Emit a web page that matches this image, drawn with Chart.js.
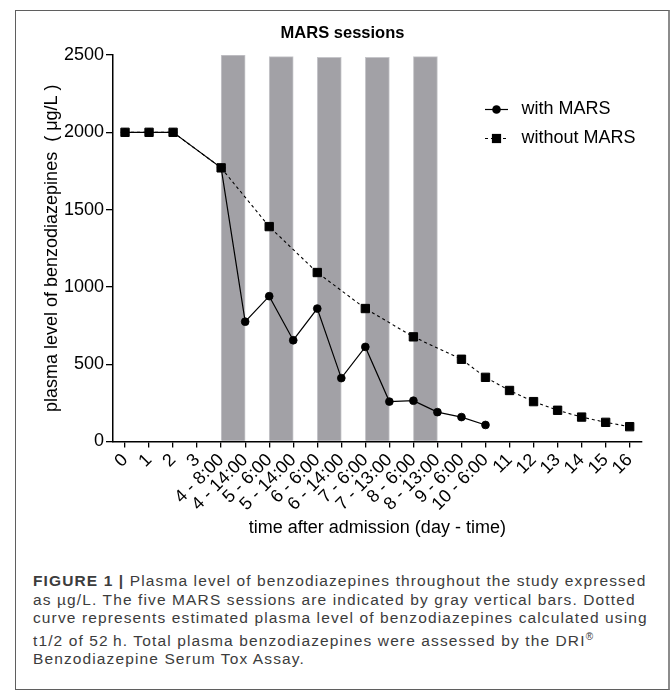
<!DOCTYPE html>
<html>
<head>
<meta charset="utf-8">
<script src="https://cdn.jsdelivr.net/npm/chart.js@4.4.0/dist/chart.umd.min.js"></script>
<style>
  body { margin: 0; background: #fff; font-family: "Liberation Sans", Arial, sans-serif; }
  #frame { position: absolute; left: 15px; top: 10px; width: 652px; height: 678px; border: 1px solid #5f5f5f; border-right: 2px solid #8c8c8c; }
  #chartBox { position: absolute; left: 0; top: 0; width: 670px; height: 560px; }
  #caption { position: absolute; left: 33px; top: 572px; font-size: 15.5px; line-height: 18.5px; letter-spacing: 1.12px; color: #3c3c3c; white-space: nowrap; }
</style>
</head>
<body>
<div id="frame"></div>
<div id="chartBox"><canvas id="chart"></canvas></div>
<div id="caption">
  <b>FIGURE 1 |</b> Plasma level of benzodiazepines throughout the study expressed<br>
  as µg/L. The five MARS sessions are indicated by gray vertical bars. Dotted<br>
  curve represents estimated plasma level of benzodiazepines calculated using<br>
  t1/2 of 52&#8201;h. Total plasma benzodiazepines were assessed by the DRI<sup style="font-size:10px">®</sup><br>
  Benzodiazepine Serum Tox Assay.
</div>
<script>
// tick labels for the time axis (day - time)
const xLabels = ['0', '1', '2', '3', '4 - 8:00', '4 - 14:00', '5 - 6:00', '5 - 14:00',
  '6 - 6:00', '6 - 14:00', '7 - 6:00', '7 - 13:00', '8 - 6:00', '8 - 13:00',
  '9 - 6:00', '10 - 6:00', '11', '12', '13', '14', '15', '16'];

// measured plasma level (µg/L)
const withMars = [2000, 2000, 2000, null, 1770, 775, 940, 655, 860, 410, 612, 258,
  264, 190, 158, 107, null, null, null, null, null, null];

// estimated level with t1/2 = 52 h
const withoutMars = [2000, 2000, 2000, null, 1770, null, 1390, null, 1093, null, 860, null,
  677, null, 532, 415, 330, 258, 202, 158, 124, 96];

// MARS sessions: each bar spans two time points
const sessionCenters = [4.5, 6.5, 8.5, 10.5, 12.5];
const sessionTops = [2500, 2490, 2485, 2485, 2490];

const toPoints = arr => arr.map((v, i) => ({ x: i, y: v }));

Chart.defaults.font.family = '"Liberation Sans", Arial, sans-serif';
Chart.defaults.color = '#000';

// title over the bars and the legend inside the plot
const overlay = {
  id: 'overlay',
  afterDraw(chart) {
    const ctx = chart.ctx;
    const x = chart.scales.x;
    ctx.save();
    ctx.fillStyle = '#000';
    ctx.strokeStyle = '#000';
    ctx.textBaseline = 'middle';
    ctx.font = 'bold 16.5px "Liberation Sans", Arial, sans-serif';
    ctx.textAlign = 'center';
    ctx.fillText('MARS sessions', x.getPixelForValue(9.05), 33);

    ctx.font = '18px "Liberation Sans", Arial, sans-serif';
    ctx.textAlign = 'left';
    const lx = 485, lw = 23, rows = [109.5, 138.5];
    // with MARS
    ctx.lineWidth = 1.2;
    ctx.beginPath();
    ctx.moveTo(lx, rows[0]); ctx.lineTo(lx + lw, rows[0]);
    ctx.stroke();
    ctx.beginPath();
    ctx.arc(lx + lw / 2, rows[0], 4.3, 0, Math.PI * 2);
    ctx.fill();
    ctx.fillText('with MARS', 521.5, rows[0]);
    // without MARS
    ctx.setLineDash([3, 3]);
    ctx.beginPath();
    ctx.moveTo(lx, rows[1]); ctx.lineTo(lx + lw, rows[1]);
    ctx.stroke();
    ctx.setLineDash([]);
    ctx.fillRect(lx + lw / 2 - 4.6, rows[1] - 4.6, 9.2, 9.2);
    ctx.fillText('without MARS', 521.5, rows[1]);
    ctx.restore();
  }
};

new Chart(document.getElementById('chart'), {
  type: 'line',
  data: {
    datasets: [
      {
        type: 'bar',
        label: 'MARS sessions',
        data: sessionCenters.map((c, i) => ({ x: c, y: sessionTops[i] })),
        backgroundColor: '#a2a1a6',
        borderColor: '#c6c6ca',
        borderWidth: { left: 1, right: 1, top: 1, bottom: 0 },
        borderSkipped: 'bottom',
        categoryPercentage: 1,
        barPercentage: 1,
        order: 3
      },
      {
        label: 'with MARS',
        data: toPoints(withMars),
        borderColor: '#000',
        borderWidth: 1.2,
        pointStyle: 'circle',
        pointRadius: 3.9,
        pointBackgroundColor: '#000',
        pointBorderColor: '#000',
        pointBorderWidth: 0.8,
        spanGaps: true,
        tension: 0,
        order: 2
      },
      {
        label: 'without MARS',
        data: toPoints(withoutMars),
        borderColor: '#000',
        borderWidth: 1.1,
        borderDash: [3, 3],
        pointStyle: 'rect',
        pointRadius: 5.9,
        pointBackgroundColor: '#000',
        pointBorderColor: '#000',
        pointBorderWidth: 1,
        spanGaps: true,
        tension: 0,
        order: 1
      }
    ]
  },
  options: {
    responsive: true,
    maintainAspectRatio: false,
    animation: false,
    layout: { padding: { top: 55, right: 28.3, bottom: 0, left: 0 } },
    plugins: {
      legend: { display: false },
      tooltip: { enabled: false }
    },
    scales: {
      x: {
        type: 'linear',
        min: -0.5,
        max: 21.5,
        offset: false,
        afterBuildTicks: s => { s.ticks = xLabels.map((_, i) => ({ value: i })); },
        afterFit: s => { s.height = 118.5; s.paddingLeft = 0; s.paddingRight = 0; },
        ticks: {
          autoSkip: false,
          maxRotation: 45,
          minRotation: 45,
          padding: 2,
          font: { size: 18 },
          color: '#000',
          callback: v => xLabels[v]
        },
        grid: { offset: false, drawOnChartArea: false, drawTicks: true, tickLength: 6, color: '#000', lineWidth: 1.3 },
        border: { color: '#000', width: 1.5 },
        title: {
          display: true,
          text: 'time after admission (day - time)',
          font: { size: 18 },
          color: '#000',
          padding: { top: 0, bottom: 21 }
        }
      },
      y: {
        min: 0,
        max: 2500,
        afterFit: s => { s.width = 113; },
        ticks: { stepSize: 500, padding: 2, font: { size: 18 }, color: '#000', callback: v => String(v) },
        grid: { drawOnChartArea: false, drawTicks: true, tickLength: 7, color: '#000', lineWidth: 1.3 },
        border: { color: '#000', width: 1.5 },
        title: {
          display: true,
          text: 'plasma level of benzodiazepines  ( μg/L )',
          font: { size: 18 },
          color: '#000',
          padding: { top: 41, bottom: 0 }
        }
      }
    }
  },
  plugins: [overlay]
});
</script>
</body>
</html>
